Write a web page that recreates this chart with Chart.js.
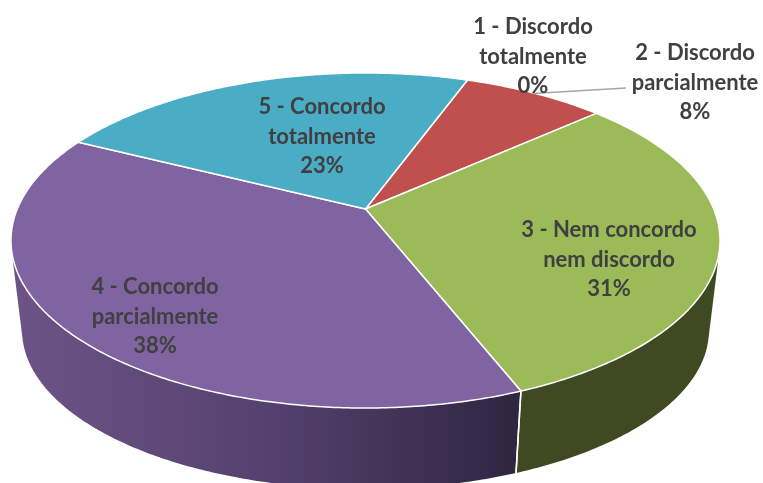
<!DOCTYPE html>
<html>
<head>
<meta charset="utf-8">
<style>
  html, body { margin: 0; padding: 0; background: #fff; }
  canvas { display: block; }
</style>
<script src="https://cdn.jsdelivr.net/npm/chart.js@4"></script>
</head>
<body>
<canvas id="pie3d" width="763" height="483"></canvas>
<script>
const categories = [
    ['1 - Discordo', 'totalmente'],
    ['2 - Discordo', 'parcialmente'],
    ['3 - Nem concordo', 'nem discordo'],
    ['4 - Concordo', 'parcialmente'],
    ['5 - Concordo', 'totalmente']
];
const shares = [0, 7.8, 30.6, 38.4, 23.2];
const topColors = ['#4f81bd', '#c0504d', '#9bbb59', '#8064a2', '#4bacc6'];
const sideColors = ['#2b4668', '#6a2b2a', '#3f4a22', '#4f3e66', '#28606f'];

// where each label block sits: centre x, first line centre y
const labelSpots = [[533, 27], [695, 53], [609, 230], [155, 287], [322, 107]];
const lineStep = 29.5;

// perspective of the disc: top face and bottom face
const topFace = { cx: 365.5, cy: 209, r: 348.2, h: 161.6, k: 0.188 };
const baseFace = { cx: 365.5, cy: 300.6, r: 337.3, h: 153, k: 0.188 };

function project(face, a) {
    const u = Math.cos(a), v = Math.sin(a);
    const w = 1 - face.k * v;
    return [face.cx + face.r * u / w, face.cy + face.h * v / w];
}

function traceArc(ctx, face, from, to, first) {
    const steps = Math.max(2, Math.ceil(Math.abs(to - from) / 0.01));
    for (let i = 0; i <= steps; i++) {
        const p = project(face, from + (to - from) * i / steps);
        if (i === 0 && first) ctx.moveTo(p[0], p[1]);
        else ctx.lineTo(p[0], p[1]);
    }
}

function sideFill(ctx, i) {
    if (i !== 3) return sideColors[i];
    const g = ctx.createLinearGradient(20, 0, 520, 0);
    g.addColorStop(0, '#6c5386');
    g.addColorStop(0.5, '#54416f');
    g.addColorStop(1, '#2f2540');
    return g;
}

// one strip of wall, always wound the same way so the strips join up
function addStrip(ctx, a0, a1) {
    const pts = [project(topFace, a0), project(topFace, a1), project(baseFace, a1), project(baseFace, a0)];
    let area = 0;
    pts.forEach((p, n) => {
        const q = pts[(n + 1) % 4];
        area += p[0] * q[1] - q[0] * p[1];
    });
    if (area < 0) pts.reverse();
    pts.forEach((p, n) => {
        if (n === 0) ctx.moveTo(p[0], p[1]);
        else ctx.lineTo(p[0], p[1]);
    });
    ctx.closePath();
}

const pie3d = {
    id: 'pie3d',
    beforeDatasetDraw(chart, args) {
        const ctx = chart.ctx;
        const arcs = args.meta.data;
        ctx.save();
        ctx.lineJoin = 'round';

        // side wall, the top face covers its back half
        arcs.forEach((arc, i) => {
            const span = arc.endAngle - arc.startAngle;
            if (span <= 0) return;
            const steps = Math.ceil(span / 0.01);
            ctx.beginPath();
            for (let s = 0; s < steps; s++) {
                addStrip(ctx, arc.startAngle + span * s / steps, arc.startAngle + span * (s + 1) / steps);
            }
            ctx.fillStyle = sideFill(ctx, i);
            ctx.fill('nonzero');
        });

        // white seams where slices meet on the front of the wall
        ctx.strokeStyle = '#fff';
        ctx.lineWidth = 1.5;
        arcs.forEach(arc => {
            [arc.startAngle, arc.endAngle].forEach(a => {
                if (Math.sin(a) < 0.3) return;
                const p = project(topFace, a), q = project(baseFace, a);
                ctx.beginPath();
                ctx.moveTo(p[0], p[1]);
                ctx.lineTo(q[0], q[1]);
                ctx.stroke();
            });
        });

        arcs.forEach(arc => {
            if (arc.endAngle - arc.startAngle <= 0) return;
            ctx.beginPath();
            ctx.moveTo(topFace.cx, topFace.cy);
            traceArc(ctx, topFace, arc.startAngle, arc.endAngle, false);
            ctx.closePath();
            ctx.fillStyle = arc.options.backgroundColor;
            ctx.fill();
            ctx.strokeStyle = arc.options.borderColor;
            ctx.lineWidth = arc.options.borderWidth;
            ctx.stroke();
        });
        ctx.restore();
        return false;
    },
    afterDatasetsDraw(chart) {
        const ctx = chart.ctx;
        ctx.save();
        ctx.strokeStyle = '#a6a6a6';
        ctx.lineWidth = 1.5;
        ctx.beginPath();
        ctx.moveTo(533, 93.5);
        ctx.lineTo(626, 88);
        ctx.stroke();

        ctx.fillStyle = '#404040';
        ctx.font = 'bold 22px Lato';
        ctx.textAlign = 'center';
        ctx.textBaseline = 'middle';
        categories.forEach((lines, i) => {
            const [x, y] = labelSpots[i];
            lines.concat(Math.round(shares[i]) + '%').forEach((line, n) => {
                ctx.fillText(line, x, y + n * lineStep);
            });
        });
        ctx.restore();
    }
};

new Chart(document.getElementById('pie3d').getContext('2d'), {
    type: 'pie',
    data: {
        labels: categories.map(c => c.join(' ')),
        datasets: [{
            data: shares,
            backgroundColor: topColors,
            borderColor: '#fff',
            borderWidth: 1.5
        }]
    },
    options: {
        responsive: false,
        animation: false,
        rotation: 20.15,
        plugins: {
            legend: { display: false },
            tooltip: { enabled: false }
        }
    },
    plugins: [pie3d]
});
</script>
</body>
</html>
